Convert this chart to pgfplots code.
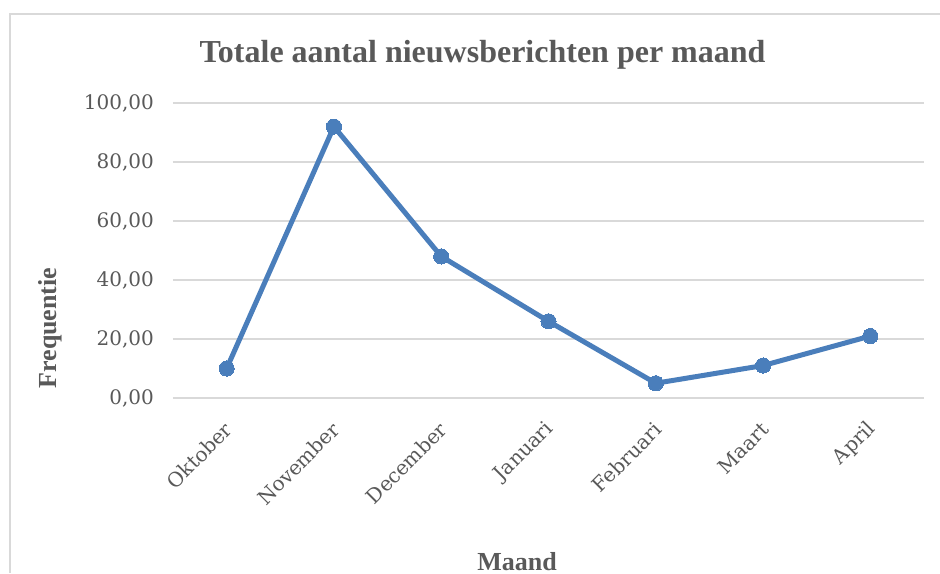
\documentclass[border=0pt]{standalone}
\usepackage{pgfplots}
\pgfplotsset{compat=1.18}
\usepackage{fontspec}
\setmainfont{Liberation Serif}
\newfontfamily\tickfont{DejaVu Serif}
\definecolor{linecol}{HTML}{4A7EBB}
\definecolor{txtgray}{HTML}{595959}
\definecolor{gridgray}{HTML}{D9D9D9}

\begin{document}
\begin{tikzpicture}
% page = 940x573 px, 1px = 0.5pt, axis origin at px (173,398)
\useasboundingbox (-86.5pt,-87.5pt) rectangle (383.5pt,199pt);
\draw[gridgray, line width=0.8pt] (-81.5pt,-87.5pt) -- (-81.5pt,192pt) -- (383.5pt,192pt);
\begin{axis}[
  at={(0,0)}, anchor=south west,
  scale only axis,
  width=375.5pt, height=147.5pt,
  xmin=-0.5, xmax=6.5,
  ymin=0, ymax=100,
  axis line style={draw=none},
  major tick length=0pt,
  ytick={0,20,40,60,80,100},
  ymajorgrids,
  grid style={gridgray, line width=0.8pt},
  xtick={0,1,2,3,4,5,6},
  xticklabels={Oktober,November,December,Januari,Februari,Maart,April},
  x tick label style={font=\tickfont\fontsize{10}{12}\selectfont, text=txtgray, rotate=45, anchor=east, xshift=-5.8pt, yshift=-10.6pt},
  y tick label style={font=\tickfont\fontsize{10}{12}\selectfont, text=txtgray, xshift=-6pt},
  /pgf/number format/assume math mode=true,
  yticklabel={\pgfmathprintnumber[fixed, fixed zerofill, precision=2, use comma]{\tick}},
  clip=false,
]
\addplot[linecol, line width=2.5pt, mark=*, mark size=3.8pt, mark options={fill=linecol, draw=linecol, line width=0pt}]
  coordinates {(0,10) (1,92) (2,48) (3,26) (4,5) (5,11) (6,21)};
\end{axis}
\node[anchor=base, text=txtgray, font=\bfseries\fontsize{16}{19}\selectfont] at (154.75pt,167.5pt) {Totale aantal nieuwsberichten per maand};
\node[anchor=base, rotate=90, text=txtgray, font=\bfseries\fontsize{13}{15}\selectfont] at (-58pt,35pt) {Frequentie};
\node[anchor=base, text=txtgray, font=\bfseries\fontsize{13}{15}\selectfont] at (172pt,-86pt) {Maand};
\end{tikzpicture}
\end{document}
